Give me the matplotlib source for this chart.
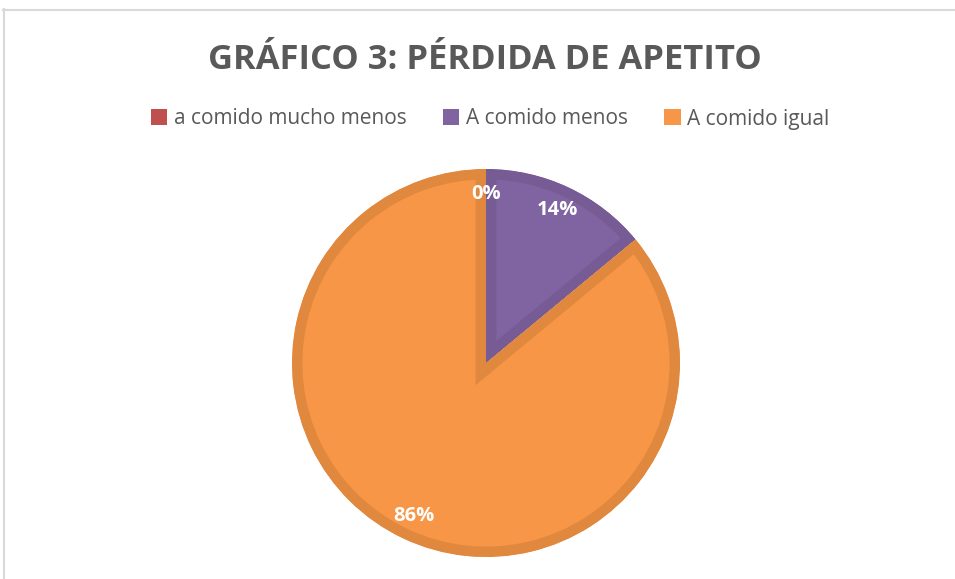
import matplotlib.pyplot as plt
from matplotlib.lines import Line2D
from matplotlib.patches import Patch

labels = ["a comido mucho menos", "A comido menos", "A comido igual"]
values = [0, 14, 86]
face_colors = ["#C0504D", "#8064A2", "#F79646"]
edge_colors = ["#B24A47", "#765B95", "#E0883E"]
title = "GRÁFICO 3: PÉRDIDA DE APETITO"

W, H = 955, 579
fig = plt.figure(figsize=(W / 100, H / 100), dpi=100)
fig.patch.set_facecolor("white")

# chart frame (cropped: only top and left edges visible)
fig.add_artist(Line2D([3 / W, 1], [1 - 9.5 / H, 1 - 9.5 / H], color="#D9D9D9", lw=1.5))
fig.add_artist(Line2D([3.5 / W, 3.5 / W], [0, 1 - 9 / H], color="#D9D9D9", lw=1.5))

# pie axes
cx, cy, r = 486, 363, 194
ax = fig.add_axes([(cx - r) / W, (H - cy - r) / H, 2 * r / W, 2 * r / H])
wedges, _, autotexts = ax.pie(
    values,
    colors=face_colors,
    startangle=90,
    counterclock=False,
    autopct="%1.0f%%",
    pctdistance=0.87,
    radius=1,
    textprops=dict(color="white", fontsize=14.5, fontweight="bold", family="Open Sans"),
)
# border drawn inside each wedge only
for w, ec in zip(wedges, edge_colors):
    w.set_edgecolor(ec)
    w.set_linewidth(15)
    w.set_clip_path(w)
    w.set_clip_on(True)
ax.set_xlim(-1, 1)
ax.set_ylim(-1, 1)
ax.set_aspect("equal")
ax.axis("off")

fig.text(485 / W, 1 - 69 / H, title, ha="center", va="baseline",
         fontsize=24.8, fontweight="bold", color="#595959", family="Open Sans")

handles = [Patch(facecolor=c, edgecolor="none") for c in face_colors]
fig.legend(handles, labels, loc="center", bbox_to_anchor=(490 / W, 1 - 119 / H),
           ncol=3, frameon=False, handlelength=0.8, handleheight=0.8,
           handletextpad=0.3, columnspacing=1.75,
           prop=dict(family="Open Sans", size=15), labelcolor="#595959")

fig.savefig("out.png", dpi=100)
